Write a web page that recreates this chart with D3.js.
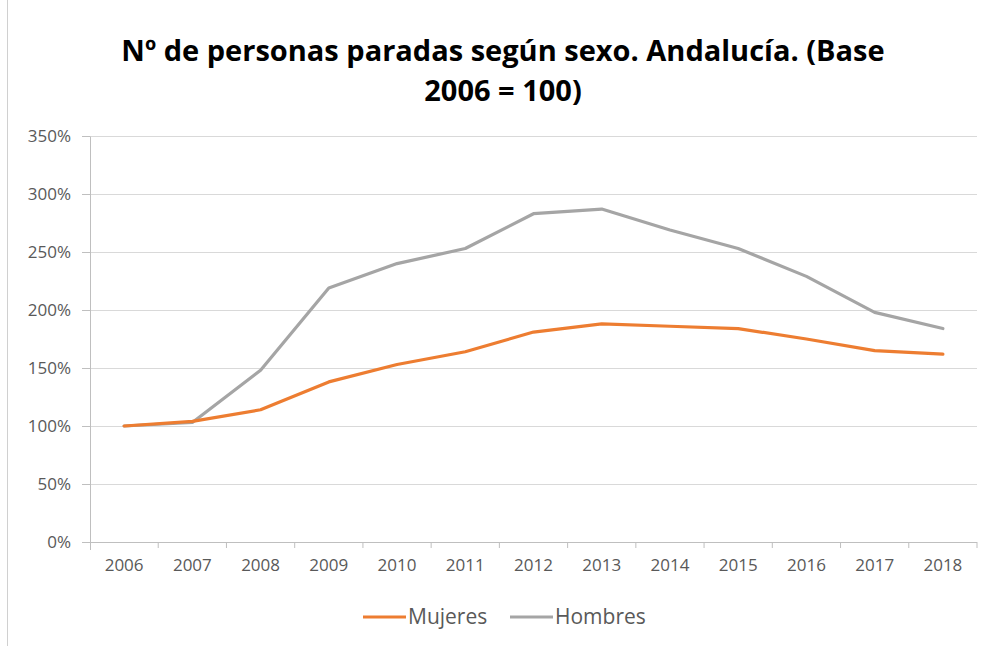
<!DOCTYPE html>
<html>
<head>
<meta charset="utf-8">
<script src="https://cdn.jsdelivr.net/npm/d3@7"></script>
<style>
  body { margin: 0; background: #fff; }
  svg { font-family: "Open Sans", "Liberation Sans", sans-serif; }
  .axis text { fill: #595959; font-size: 17px; font-family: "Open Sans", sans-serif; }
  .axis path, .axis line { stroke: #bfbfbf; }
</style>
</head>
<body>
<div id="chart"></div>
<script>
const years = ['2006', '2007', '2008', '2009', '2010', '2011', '2012', '2013', '2014', '2015', '2016', '2017', '2018']
const mujeres = [100, 104, 114, 138, 153, 164, 181, 188, 186, 184, 175, 165, 162]
const hombres = [100, 103, 148, 219, 240, 253, 283, 287, 269, 253, 229, 198, 184]
const yTicks = [0, 50, 100, 150, 200, 250, 300, 350]
const titleLines = ['Nº de personas paradas según sexo. Andalucía. (Base', '2006 = 100)']
const seriesNames = ['Mujeres', 'Hombres']
const seriesColors = ['#ed7d31', '#a5a5a5']

const W = 988, H = 646
const margin = { top: 136, right: 11, bottom: 104, left: 90 }
const width = W - margin.left - margin.right
const height = H - margin.top - margin.bottom

const svg = d3.select('#chart').append('svg')
    .attr('width', W)
    .attr('height', H)

// chart border
svg.append('rect')
    .attr('x', 7.5).attr('y', -2)
    .attr('width', W - 6).attr('height', H + 4)
    .attr('fill', 'none')
    .attr('stroke', '#d0d0d0')

svg.append('text')
    .attr('text-anchor', 'middle')
    .attr('font-weight', 'bold')
    .attr('font-size', 29)
    .attr('fill', '#000')
    .selectAll('tspan')
    .data(titleLines)
    .enter().append('tspan')
    .attr('x', 503)
    .attr('y', (d, i) => 61 + i * 40)
    .text(d => d)

let g = svg.append('g')
    .attr('transform', `translate(${margin.left}, ${margin.top})`)

let x = d3.scaleBand()
    .domain(years)
    .range([0, width])

let y = d3.scaleLinear()
    .domain([0, 350])
    .range([height, 0])

// gridlines
g.append('g')
    .selectAll('line')
    .data(yTicks.filter(d => d > 0))
    .enter().append('line')
    .attr('x1', 0).attr('x2', width)
    .attr('y1', d => Math.round(y(d)) + 0.5)
    .attr('y2', d => Math.round(y(d)) + 0.5)
    .attr('stroke', '#d9d9d9')
    .attr('stroke-width', 1.2)

let yAxis = g.append('g')
    .attr('class', 'axis')
    .call(d3.axisLeft(y).tickValues(yTicks).tickSize(8).tickPadding(11).tickFormat(d => d + '%'))
yAxis.select('.domain').attr('d', `M0.5,${height + 8}V0.5`)

let xAxis = g.append('g')
    .attr('class', 'axis')
    .attr('transform', `translate(0, ${height})`)
    .call(d3.axisBottom(x).tickSize(0).tickPadding(17))
xAxis.select('.domain').attr('d', `M-8,0.5H${width}`)
xAxis.selectAll('.boundary')
    .data(years.map((d, i) => i + 1))
    .enter().append('line')
    .attr('class', 'boundary')
    .attr('x1', i => i * x.step()).attr('x2', i => i * x.step())
    .attr('y1', 0).attr('y2', 6)

let line = d3.line()
    .x((d, i) => x(years[i]) + x.bandwidth() / 2)
    .y(d => y(d))

let series = [hombres, mujeres]
let colors = [seriesColors[1], seriesColors[0]]
series.forEach((s, k) => {
    g.append('path')
        .datum(s)
        .attr('d', line)
        .attr('fill', 'none')
        .attr('stroke', colors[k])
        .attr('stroke-width', 3.2)
        .attr('stroke-linejoin', 'round')
        .attr('stroke-linecap', 'round')
})

// legend
let legendX = [363, 510]
let leg = svg.append('g')
    .selectAll('g')
    .data(seriesNames)
    .enter().append('g')
    .attr('transform', (d, i) => `translate(${legendX[i]}, 617)`)
leg.append('line')
    .attr('x1', 0).attr('x2', 43)
    .attr('stroke', (d, i) => seriesColors[i])
    .attr('stroke-width', 3.2)
leg.append('text')
    .attr('x', 45)
    .attr('dy', '0.35em')
    .attr('font-size', 21)
    .attr('fill', '#595959')
    .text(d => d)
</script>
</body>
</html>
